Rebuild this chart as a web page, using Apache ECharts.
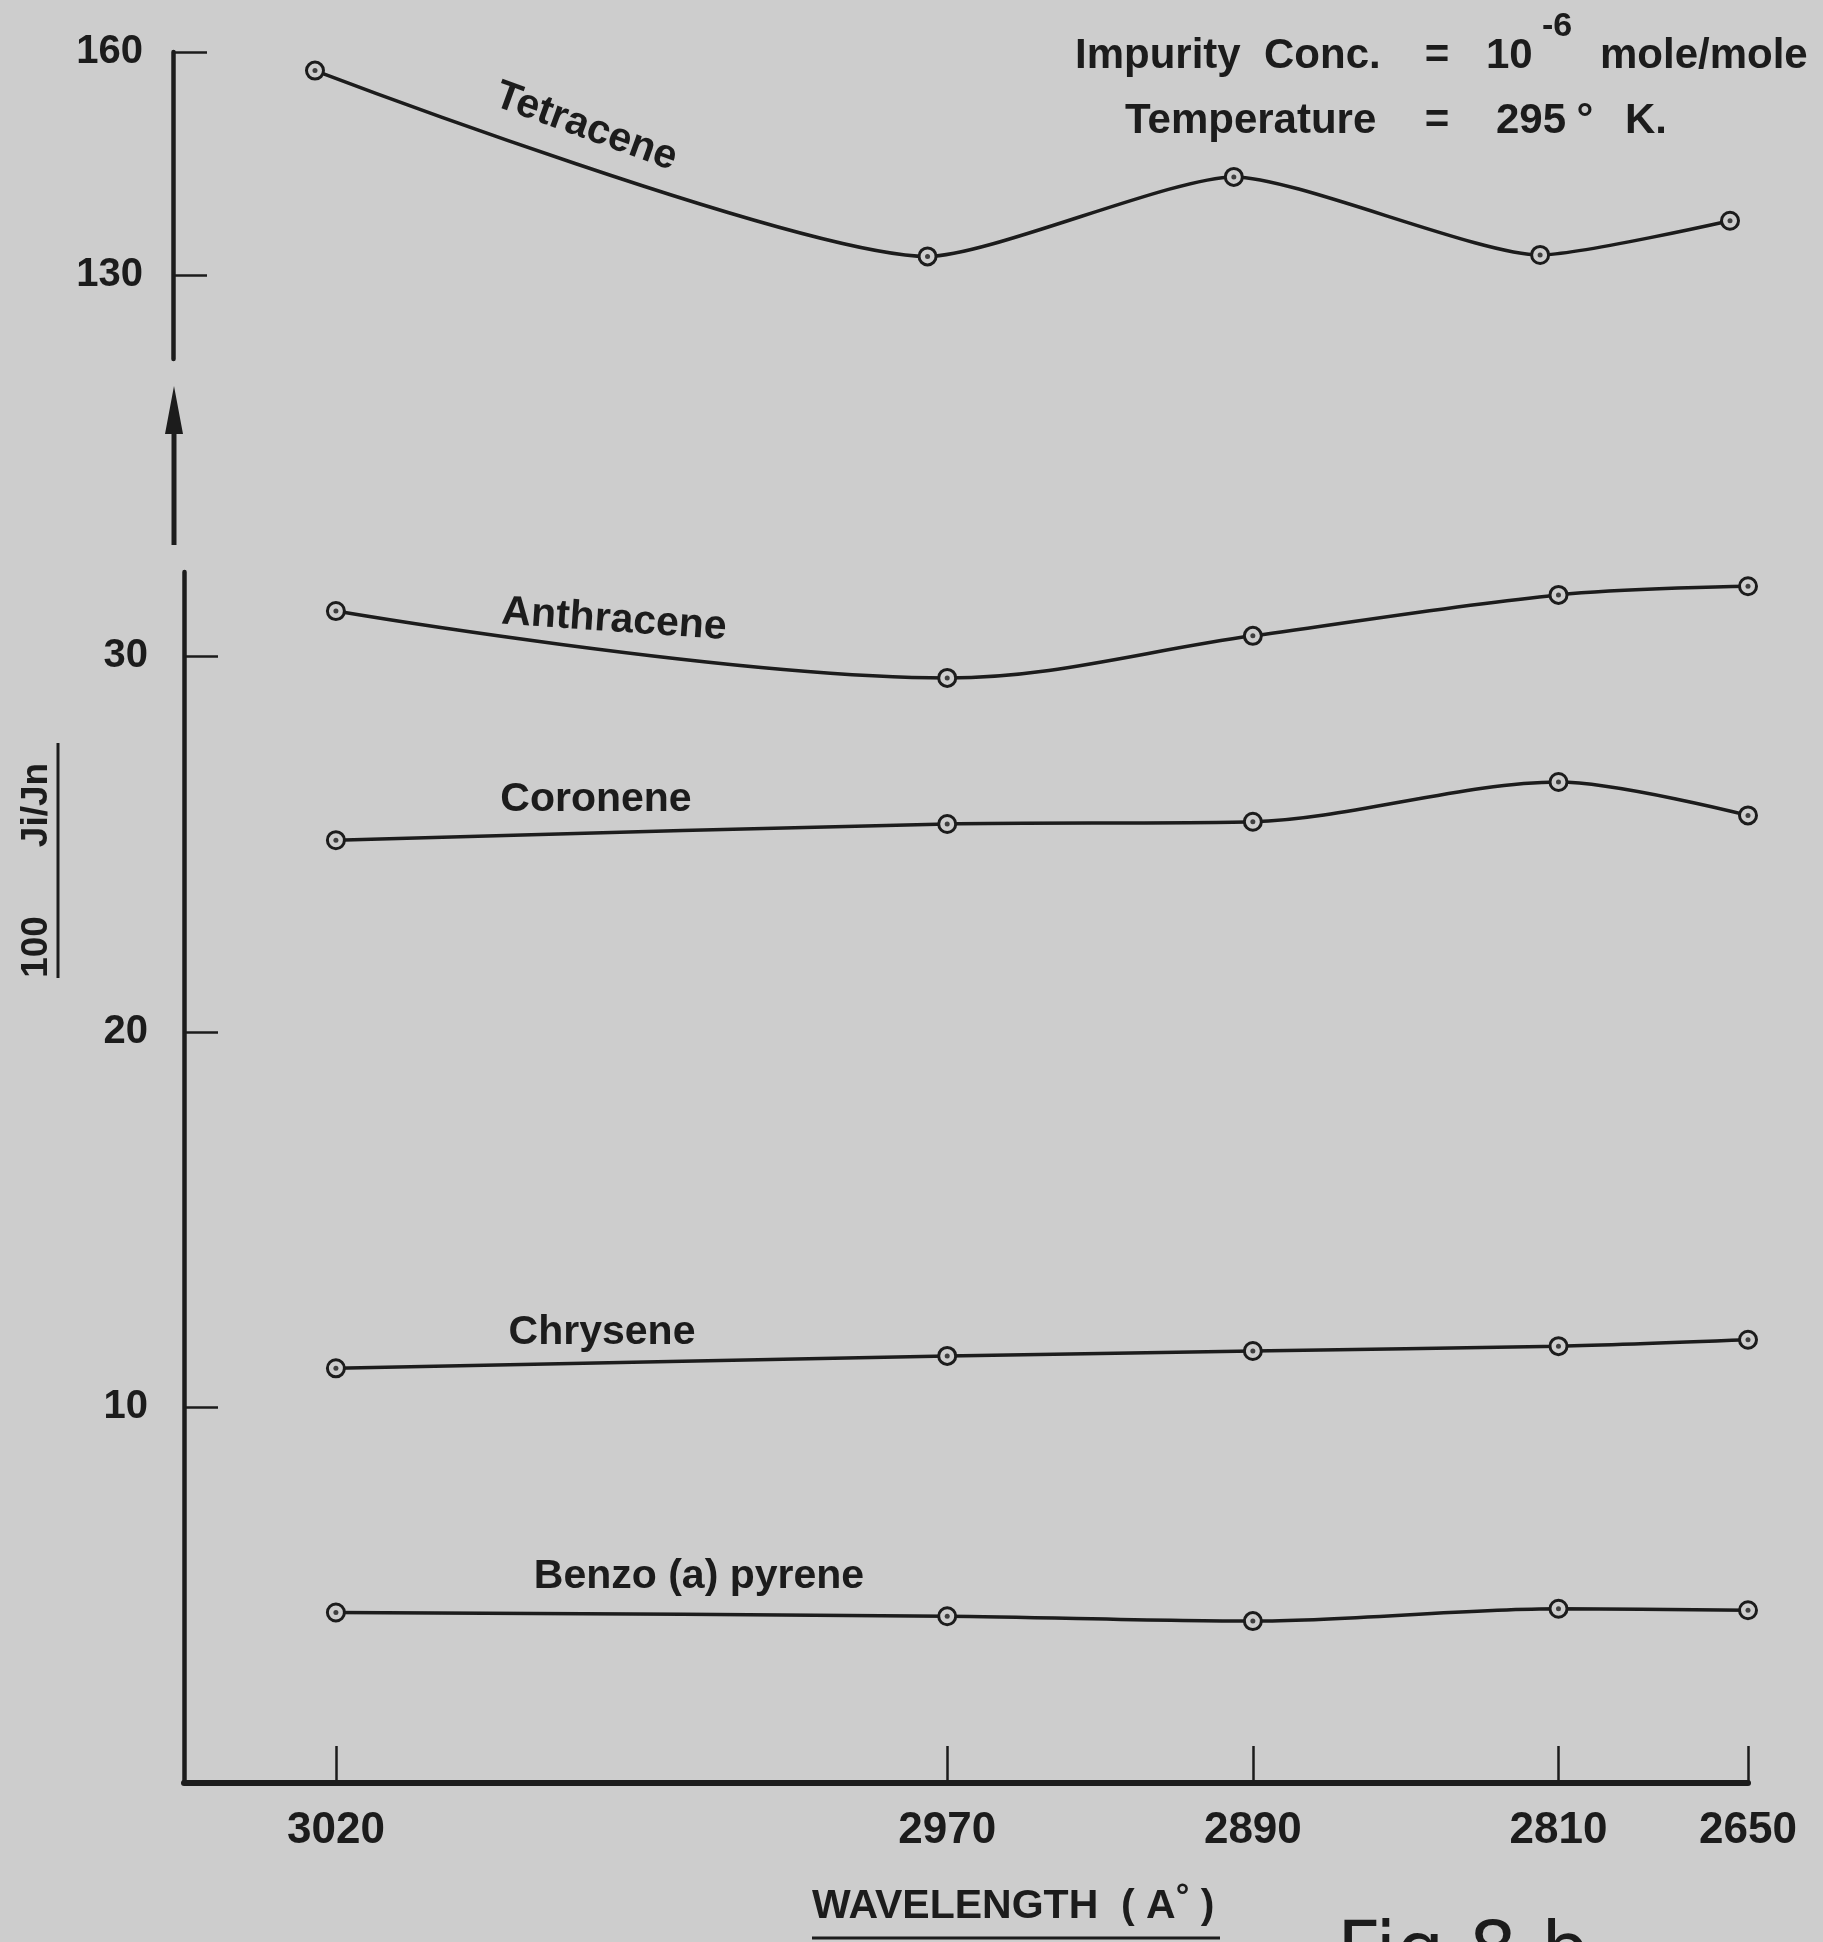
<!DOCTYPE html>
<html>
<head>
<meta charset="utf-8">
<script src="https://cdn.jsdelivr.net/npm/echarts@6/dist/echarts.min.js"></script>
<style>
html,body{margin:0;padding:0;background:#cdcdcd;}
#c{width:1823px;height:1942px;}
</style>
</head>
<body>
<div id="c"></div>
<script>
// ---- data ----
const xLabels = ['3020', '2970', '2890', '2810', '2650'];
const xPos = [0, 2, 3, 4, 4.62];            // drawn spacing of the wavelength ticks
const tetracene = [157.5, 132.5, 143.2, 132.7, 137.3];
const anthracene = [31.2, 29.42, 30.54, 31.63, 31.86];
const coronene = [25.1, 25.53, 25.59, 26.65, 25.76];
const chrysene = [11.04, 11.37, 11.5, 11.63, 11.8];
const benzopyrene = [4.54, 4.44, 4.31, 4.64, 4.6];
const upperTicks = [130, 160];
const lowerTicks = [10, 20, 30];

// ---- style ----
const BG = '#cdcdcd';
const INK = '#1c1c1c';
const FONT = "'Liberation Sans', Arial, sans-serif";

const chart = echarts.init(document.getElementById('c'), null, {renderer: 'canvas'});

function pts(vals) { return vals.map((v, i) => [xPos[i], v]); }
function lineSeries(name, vals, gi, smooth) {
  return [{
    name: name, type: 'line', xAxisIndex: gi, yAxisIndex: gi,
    data: pts(vals), smooth: smooth, symbol: 'circle', symbolSize: 17,
    itemStyle: {color: BG, borderColor: INK, borderWidth: 3},
    lineStyle: {color: INK, width: 3.5}, z: 3
  }, {
    name: name + '_dot', type: 'scatter', xAxisIndex: gi, yAxisIndex: gi,
    data: pts(vals), symbol: 'circle', symbolSize: 5,
    itemStyle: {color: INK}, z: 5, silent: true
  }];
}
function xLabelFmt(v) {
  const i = xPos.findIndex(p => Math.abs(p - v) < 1e-6);
  return i >= 0 ? xLabels[i] : '';
}
function txt(text, x, y, size, opts) {
  opts = opts || {};
  return {
    type: 'text', x: x, y: y, rotation: opts.rot || 0, z: 10,
    style: {
      text: text, fontSize: size, fontWeight: opts.weight || 'bold', fontFamily: opts.family || FONT,
      fill: INK, align: opts.align || 'left', verticalAlign: 'middle'
    }
  };
}

const yLabelBase = {color: INK, fontSize: 40, fontWeight: 'bold', fontFamily: FONT};

const option = {
  backgroundColor: BG,
  animation: false,
  grid: [
    {left: 173, top: 52, width: 1557, height: 307},
    {left: 184, top: 572, width: 1564, height: 1211}
  ],
  xAxis: [
    {gridIndex: 0, type: 'value', min: -0.4636, max: 4.62, show: false},
    {gridIndex: 1, type: 'value', min: -0.497, max: 4.62,
      axisLine: {show: true, onZero: false, lineStyle: {color: INK, width: 6}},
      axisTick: {show: true, inside: true, length: 37, customValues: xPos, lineStyle: {color: INK, width: 2.5}},
      axisLabel: {show: true, customValues: xPos, formatter: xLabelFmt, margin: 26,
        color: INK, fontSize: 44, fontWeight: 'bold', fontFamily: FONT},
      splitLine: {show: false}}
  ],
  yAxis: [
    {gridIndex: 0, type: 'value', min: 118.7, max: 160,
      axisLine: {show: true, onZero: false, lineStyle: {color: INK, width: 4.5}},
      axisTick: {show: true, inside: true, length: 34, customValues: upperTicks, lineStyle: {color: INK, width: 2.5}},
      axisLabel: Object.assign({customValues: upperTicks, margin: 30}, yLabelBase),
      splitLine: {show: false}},
    {gridIndex: 1, type: 'value', min: 0, max: 32.24,
      axisLine: {show: true, onZero: false, lineStyle: {color: INK, width: 4.5}},
      axisTick: {show: true, inside: true, length: 34, customValues: lowerTicks, lineStyle: {color: INK, width: 2.5}},
      axisLabel: Object.assign({customValues: lowerTicks, margin: 36}, yLabelBase),
      splitLine: {show: false}}
  ],
  series: [].concat(
    lineSeries('Tetracene', tetracene, 0, 0.2),
    lineSeries('Anthracene', anthracene, 1, 0.35),
    lineSeries('Coronene', coronene, 1, 0.3),
    lineSeries('Chrysene', chrysene, 1, 0.3),
    lineSeries('Benzo (a) pyrene', benzopyrene, 1, 0.3)
  ),
  graphic: [
    // axis-break arrow
    {type: 'line', shape: {x1: 174, y1: 545, x2: 174, y2: 420}, style: {stroke: INK, lineWidth: 5}, z: 10},
    {type: 'polygon', shape: {points: [[174, 386], [165, 434], [183, 434]]}, style: {fill: INK}, z: 10},
    // curve names
    txt('Tetracene', 586, 127, 41, {align: 'center', rot: -20 * Math.PI / 180}),
    txt('Anthracene', 614, 620, 41, {align: 'center', rot: -4 * Math.PI / 180}),
    txt('Coronene', 596, 800, 41, {align: 'center'}),
    txt('Chrysene', 602, 1333, 41, {align: 'center'}),
    txt('Benzo (a) pyrene', 699, 1577, 41, {align: 'center'}),
    // annotation
    txt('Impurity  Conc.', 1075, 56, 42),
    txt('=', 1437, 56, 42, {align: 'center'}),
    txt('10', 1486, 56, 42),
    txt('-6', 1542, 27, 34),
    txt('mole/mole', 1600, 56, 42),
    txt('Temperature', 1125, 121, 42),
    txt('=', 1437, 121, 42, {align: 'center'}),
    txt('295', 1496, 121, 42),
    txt('°', 1585, 121, 42, {align: 'center'}),
    txt('K.', 1625, 121, 42),
    // y axis title
    txt('100', 37, 947, 37, {align: 'center', rot: Math.PI / 2}),
    txt('Ji/Jn', 37, 805, 37, {align: 'center', rot: Math.PI / 2}),
    {type: 'line', shape: {x1: 58, y1: 743, x2: 58, y2: 978}, style: {stroke: INK, lineWidth: 3}, z: 10},
    // x axis title
    {type: 'text', x: 812, y: 1907, z: 10, style: {
      text: 'WAVELENGTH  ( A{s|°} )', fontSize: 41, fontWeight: 'bold', fontFamily: FONT, fill: INK,
      align: 'left', verticalAlign: 'middle',
      rich: {s: {fontSize: 34, fontWeight: 'bold', fontFamily: FONT, fill: INK, verticalAlign: 'top', padding: [0, 0, 18, 0]}}
    }},
    {type: 'line', shape: {x1: 812, y1: 1938, x2: 1220, y2: 1938}, style: {stroke: INK, lineWidth: 3}, z: 10},
    txt('Fig.8 b', 1337, 1956, 76, {weight: 'normal', family: "'DejaVu Sans', sans-serif"})
  ]
};
chart.setOption(option);
</script>
</body>
</html>
